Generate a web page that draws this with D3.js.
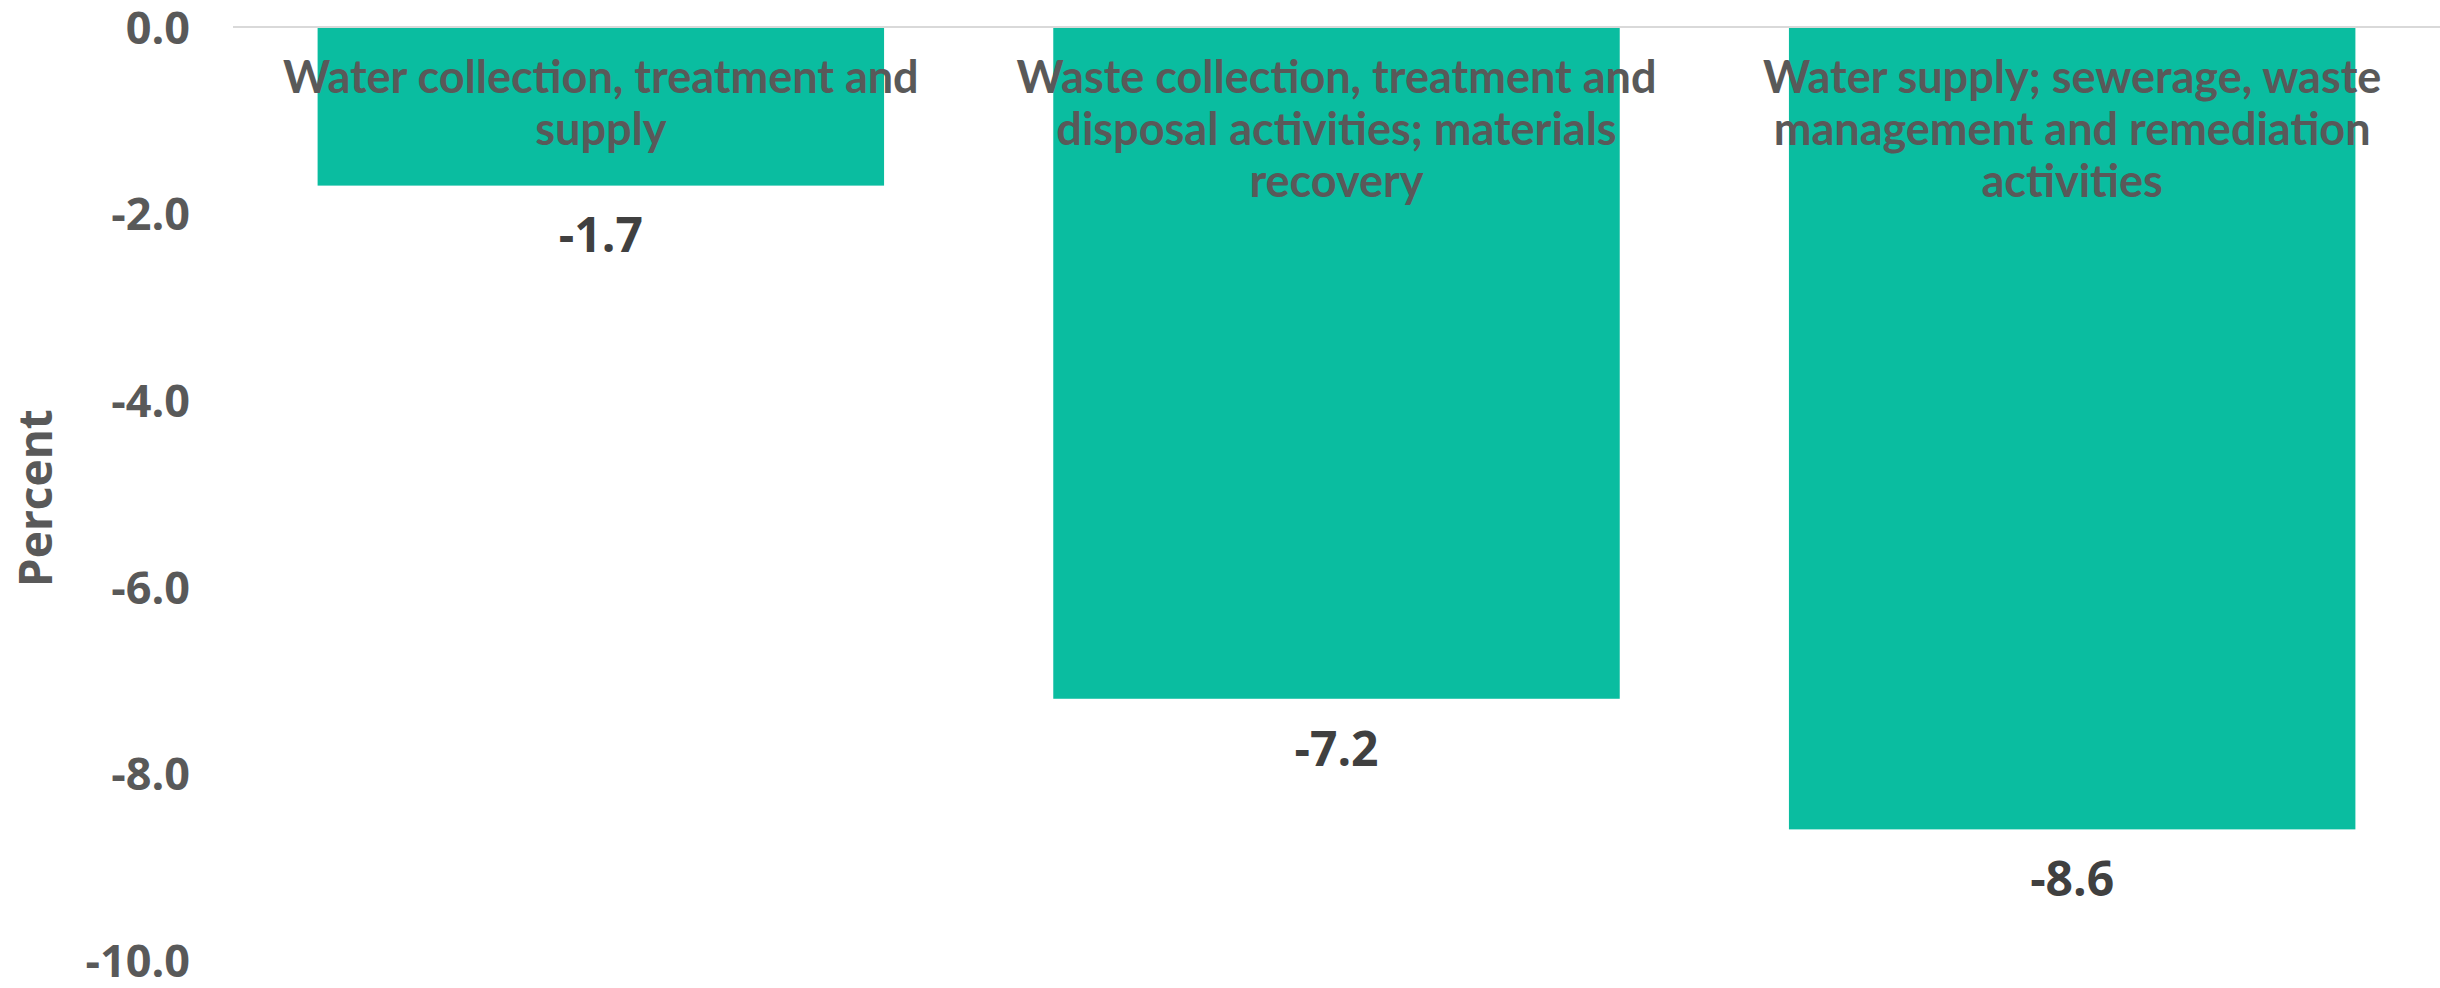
<!DOCTYPE html>
<html>
<head>
<meta charset="utf-8">
<script src="https://cdn.jsdelivr.net/npm/d3@7"></script>
<style>
  html, body { margin: 0; padding: 0; background: #ffffff; }
  svg { display: block; }
</style>
</head>
<body>
<svg id="chart" width="2440" height="988"></svg>
<script>
// Percentage change by industry (lines of each category label split with "\n")
const categories = [
  "Water collection, treatment and\nsupply",
  "Waste collection, treatment and\ndisposal activities; materials\nrecovery",
  "Water supply; sewerage, waste\nmanagement and remediation\nactivities"
];
const values = [-1.7, -7.2, -8.6];
const yTicks = [0, -2, -4, -6, -8, -10];
const yTitle = "Percent";

const svg = d3.select("#chart");
const plot = { left: 233, right: 2440, top: 27, bottom: 960 };

const x = d3.scaleBand()
  .domain(categories)
  .range([plot.left, plot.right])
  .paddingInner(0.23)
  .paddingOuter(0.115);

const y = d3.scaleLinear()
  .domain([-10, 0])
  .range([plot.bottom, plot.top]);

// one decimal, plain hyphen for negatives
const fmt = d => d3.format(".1f")(d).replace("\u2212", "-");

// y axis: labels only, no line or ticks
const yAxis = d3.axisLeft(y)
  .tickValues(yTicks)
  .tickFormat(fmt)
  .tickSize(0)
  .tickPadding(0);

const gy = svg.append("g")
  .attr("transform", `translate(${190},0)`)
  .call(yAxis);
gy.select(".domain").remove();
gy.selectAll("text")
  .attr("dy", "0.36em")
  .attr("fill", "#595959")
  .style("font-family", "'Open Sans', sans-serif")
  .style("font-weight", "700")
  .style("font-size", "45px");

// axis title
svg.append("text")
  .attr("transform", `translate(${40},${y(-5.05)}) rotate(-90)`)
  .attr("text-anchor", "middle")
  .attr("dominant-baseline", "middle")
  .attr("fill", "#595959")
  .style("font-family", "'Open Sans', sans-serif")
  .style("font-weight", "700")
  .style("font-size", "46px")
  .text(yTitle);

// bars
svg.append("g").selectAll("rect")
  .data(values)
  .join("rect")
  .attr("x", (d, i) => x(categories[i]))
  .attr("width", x.bandwidth())
  .attr("y", d => y(Math.max(0, d)))
  .attr("height", d => Math.abs(y(d) - y(0)))
  .attr("fill", "#0ABDA0");

// zero line
svg.append("line")
  .attr("x1", plot.left).attr("x2", plot.right)
  .attr("y1", y(0)).attr("y2", y(0))
  .attr("stroke", "#D9D9D9")
  .attr("stroke-width", 2);

// category labels near the zero line
const cat = svg.append("g").selectAll("text")
  .data(categories)
  .join("text")
  .attr("x", d => x(d) + x.bandwidth() / 2)
  .attr("y", y(0) + 54)
  .attr("text-anchor", "middle")
  .attr("dominant-baseline", "middle")
  .attr("fill", "#595959")
  .style("font-family", "Lato, sans-serif")
  .style("font-weight", "700")
  .style("font-size", "45px");
cat.selectAll("tspan")
  .data(d => d.split("\n"))
  .join("tspan")
  .attr("x", function() { return d3.select(this.parentNode).attr("x"); })
  .attr("dy", (d, i) => i === 0 ? 0 : 52)
  .text(d => d);

// value labels under each bar
svg.append("g").selectAll("text")
  .data(values)
  .join("text")
  .attr("x", (d, i) => x(categories[i]) + x.bandwidth() / 2)
  .attr("y", d => y(d) + 54)
  .attr("text-anchor", "middle")
  .attr("dominant-baseline", "middle")
  .attr("fill", "#404040")
  .style("font-family", "'Open Sans', sans-serif")
  .style("font-weight", "700")
  .style("font-size", "48px")
  .text(fmt);
</script>
</body>
</html>
